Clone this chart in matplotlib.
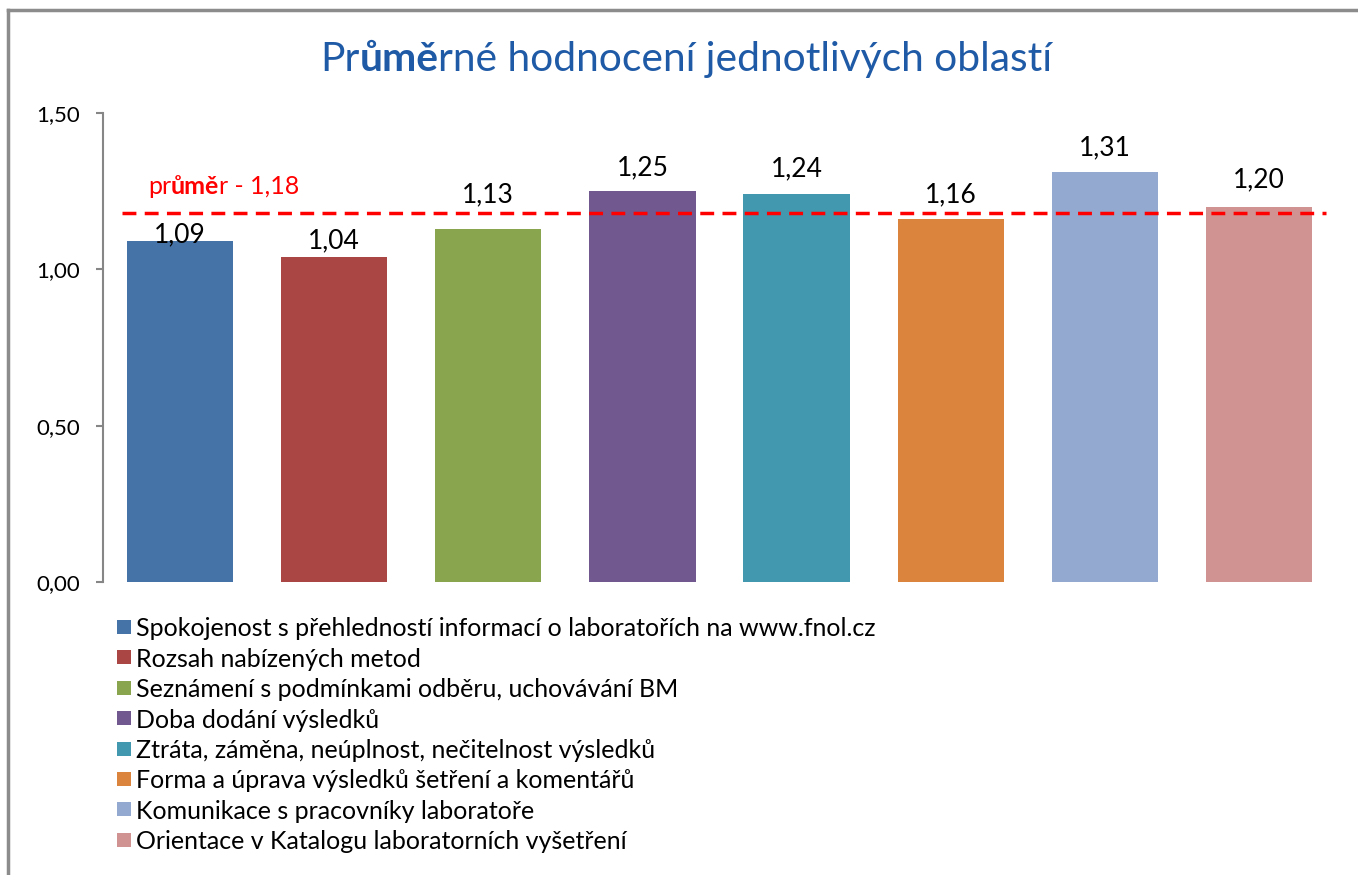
import matplotlib
matplotlib.use("Agg")
import matplotlib.pyplot as plt
from matplotlib.patches import Rectangle
from matplotlib.lines import Line2D

categories = [
    "Spokojenost s přehledností informací o laboratořích na www.fnol.cz",
    "Rozsah nabízených metod",
    "Seznámení s podmínkami odběru, uchovávání BM",
    "Doba dodání výsledků",
    "Ztráta, záměna, neúplnost, nečitelnost výsledků",
    "Forma a úprava výsledků šetření a komentářů",
    "Komunikace s pracovníky laboratoře",
    "Orientace v Katalogu laboratorních vyšetření",
]
values = [1.09, 1.04, 1.13, 1.25, 1.24, 1.16, 1.31, 1.20]
average = 1.18
colors = ["#4572A7", "#AA4643", "#89A54E", "#71588F",
          "#4198AF", "#DB843D", "#93A9CF", "#D19392"]
yticks = [0.0, 0.5, 1.0, 1.5]

plt.rcParams["font.family"] = ["Lato", "DejaVu Sans"]

W, H = 1358, 875
fig = plt.figure(figsize=(W / 100, H / 100), dpi=100)
ax = fig.add_axes([103 / W, 1 - 582 / H, (1336 - 103) / W, (582 - 113) / H])

x = list(range(len(values)))
ax.bar(x, values, width=0.69, color=colors, zorder=2)
ax.set_xlim(-0.5, len(values) - 0.5)
ax.set_ylim(0, 1.5)

ax.set_yticks(yticks)
ax.set_yticklabels([f"{v:.2f}".replace(".", ",") for v in yticks], fontsize=16)
ax.set_xticks([])
for s in ["top", "right", "bottom"]:
    ax.spines[s].set_visible(False)
ax.spines["left"].set_color("#868686")
ax.spines["left"].set_linewidth(1.5)
ax.tick_params(axis="y", direction="out", length=5, width=1.5, color="#868686", pad=11.5)

# data labels (pixel offsets above bar tops)
label_offsets = [-1, 9, 26, 16, 18, 17, 17, 19]
for xi, v, off in zip(x, values, label_offsets):
    ax.annotate(f"{v:.2f}".replace(".", ","), (xi, v), xytext=(0, off * 0.72),
                textcoords="offset points", ha="center", va="baseline",
                fontsize=19, color="black", zorder=4)

# average line
ax.axhline(average, xmin=19 / 1233, xmax=1223 / 1233, color="#FF0000",
           lw=2.5, ls=(0, (4, 2.4)), zorder=3)


def chain(parts, x0, y0, color, size):
    """Draw text fragments one after another on the same baseline."""
    last = None
    for txt, bold in parts:
        kw = dict(color=color, fontsize=size,
                  fontweight="bold" if bold else "normal", ha="left", va="bottom")
        if last is None:
            last = fig.text(x0, y0, txt, transform=fig.transFigure, **kw)
        else:
            last = ax.annotate(txt, xy=(1, 0), xycoords=last, annotation_clip=False, **kw)
    return last


avg_str = f"{average:.2f}".replace(".", ",")
chain([("pr", False), ("ůmě", True), ("r - " + avg_str, False)],
      148 / W, 1 - 198 / H, "#FF0000", 18)

title_parts = [("Pr", False), ("ůmě", True), ("rné hodnocení jednotlivých oblastí", False)]
chain(title_parts, 320 / W, 1 - 78 / H, "#1F5AA6", 29.3)

# legend (manual)
for i, (c, lab) in enumerate(zip(colors, categories)):
    yc = 627 + 30.4 * i
    fig.add_artist(Rectangle((117 / W, 1 - (yc + 7) / H), 14 / W, 14 / H,
                             transform=fig.transFigure, facecolor=c, edgecolor="none"))
    fig.text(136 / W, 1 - yc / H, lab, fontsize=18, va="center_baseline", ha="left")

# figure border (top and left)
fig.add_artist(Line2D([8 / W, 8 / W], [0, 1 - 10 / H], transform=fig.transFigure,
                      color="#8C8C8C", lw=2.5))
fig.add_artist(Line2D([8 / W, 1], [1 - 10 / H, 1 - 10 / H], transform=fig.transFigure,
                      color="#8C8C8C", lw=2.5))

fig.savefig("out.png", dpi=100)
